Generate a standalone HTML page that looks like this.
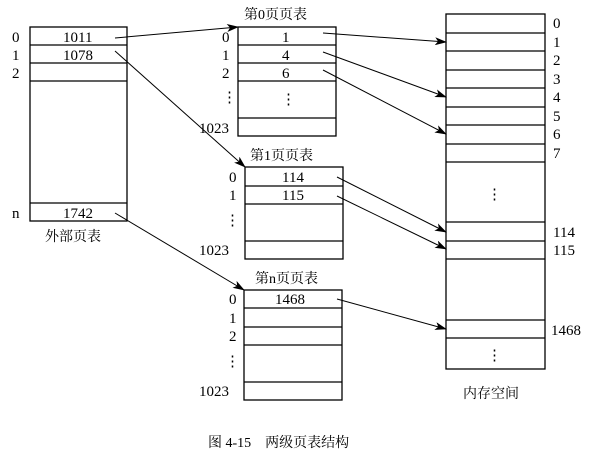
<!DOCTYPE html>
<html><head><meta charset="utf-8"><style>
body{margin:0;background:#fff}
svg text{font-family:"Liberation Serif","Noto Serif CJK SC",serif;fill:#000}
</style></head><body>
<svg width="610" height="466" viewBox="0 0 610 466" xmlns="http://www.w3.org/2000/svg">
<defs><marker id="a" markerWidth="12" markerHeight="8" refX="11" refY="4" orient="auto" markerUnits="userSpaceOnUse"><path d="M0,0 L12,4 L0,8 L3,4 z" fill="#000"/></marker></defs>
<g fill="none" stroke="#000" stroke-width="1.3">
<rect x="30" y="27" width="97" height="194"/>
<path d="M30 45H127M30 63H127M30 81H127M30 203H127"/>
<rect x="238" y="27" width="98" height="109"/>
<path d="M238 45H336M238 63H336M238 81H336M238 118H336"/>
<rect x="245" y="167" width="98" height="92"/>
<path d="M245 186H343M245 204H343M245 241H343"/>
<rect x="244" y="290" width="98" height="110"/>
<path d="M244 308H342M244 327H342M244 345H342M244 382H342"/>
<rect x="446" y="14" width="99" height="355"/>
<path d="M446 33H545M446 51H545M446 70H545M446 88H545M446 107H545M446 125H545M446 144H545M446 162H545M446 222H545M446 241H545M446 259H545M446 320H545M446 338H545"/>
</g>
<g stroke="#000" stroke-width="1" marker-end="url(#a)">
<line x1="115" y1="38" x2="238" y2="27"/>
<line x1="115" y1="51" x2="245" y2="167"/>
<line x1="115" y1="213" x2="244" y2="290"/>
<line x1="323" y1="33" x2="446" y2="42"/>
<line x1="323" y1="52" x2="446" y2="97"/>
<line x1="323" y1="70" x2="446" y2="134"/>
<line x1="337" y1="177" x2="446" y2="232"/>
<line x1="337" y1="196" x2="446" y2="249"/>
<line x1="337" y1="299" x2="446" y2="329"/>
</g>
<g font-size="15">
<text x="12" y="42">0</text><text x="12" y="60">1</text><text x="12" y="78">2</text><text x="12" y="218">n</text>
<text x="63" y="42">1011</text><text x="63" y="60">1078</text><text x="63" y="218">1742</text>
<text x="45" y="241" font-size="14">外部页表</text>
<text x="244" y="19" font-size="14">第0页页表</text>
<text x="222" y="42">0</text><text x="222" y="60">1</text><text x="222" y="78">2</text><text x="222" y="102">⋮</text><text x="199" y="133">1023</text>
<text x="282" y="42">1</text><text x="282" y="60">4</text><text x="282" y="78">6</text><text x="281" y="104">⋮</text>
<text x="250" y="160" font-size="14">第1页页表</text>
<text x="229" y="182">0</text><text x="229" y="200">1</text><text x="225" y="225">⋮</text><text x="199" y="255">1023</text>
<text x="282" y="182">114</text><text x="282" y="200">115</text>
<text x="255" y="283" font-size="14">第n页页表</text>
<text x="229" y="304">0</text><text x="229" y="323">1</text><text x="229" y="341">2</text><text x="225" y="366">⋮</text><text x="199" y="396">1023</text>
<text x="275" y="304">1468</text>
<g font-size="15">
<text x="553" y="28">0</text><text x="553" y="47">1</text><text x="553" y="65">2</text><text x="553" y="84">3</text><text x="553" y="102">4</text><text x="553" y="121">5</text><text x="553" y="139">6</text><text x="553" y="158">7</text>
<text x="553" y="237">114</text><text x="553" y="255">115</text><text x="551" y="335">1468</text>
</g>
<text x="487" y="199">⋮</text><text x="487" y="360">⋮</text>
<text x="463" y="398" font-size="14">内存空间</text>
<text x="208" y="447" font-size="14">图 4-15　两级页表结构</text>
</g>
</svg>
</body></html>
